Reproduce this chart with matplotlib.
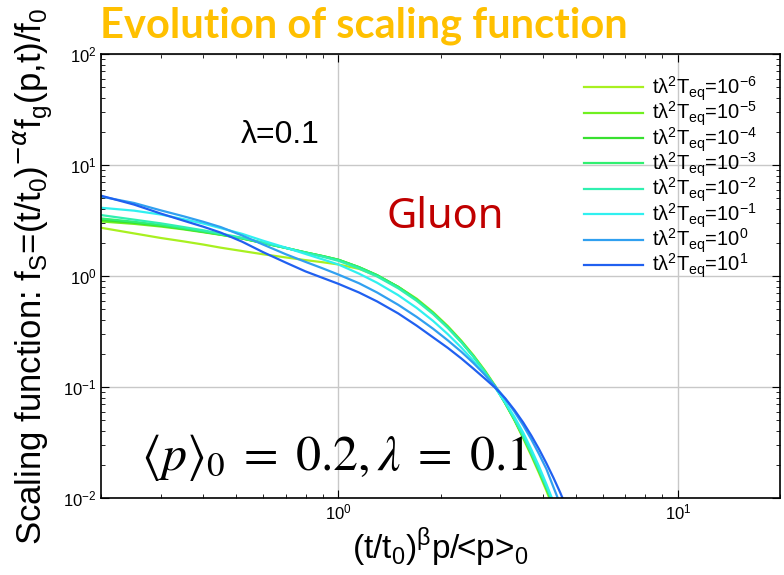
import numpy as np
import matplotlib
matplotlib.use("Agg")
from matplotlib import pyplot as plt

plt.rcParams['font.family'] = ['Liberation Sans', 'DejaVu Sans']

# scaled momentum (t/t0)^beta p/<p>0
x = [0.2, 0.25, 0.3, 0.35, 0.4, 0.45, 0.52, 0.6, 0.7, 0.8, 0.9, 1.0, 1.15, 1.3, 1.5,
     1.7, 1.9, 2.1, 2.3, 2.5, 2.7, 2.9, 3.1, 3.3, 3.5, 3.7, 3.9, 4.1, 4.3, 4.5, 4.7]

exps = ['-6', '-5', '-4', '-3', '-2', '-1', '0', '1']
colors = ['#a8f020', '#70f020', '#38e030', '#30f070', '#30f0b0', '#30f0f0', '#30a0f0', '#2060f0']

f_m6 = [2.72, 2.42, 2.2, 2.05, 1.92, 1.8, 1.68, 1.57, 1.47, 1.39, 1.33, 1.27, 1.16, 1.0, 0.80,
        0.625, 0.473, 0.354, 0.262, 0.193, 0.141, 0.102, 0.071, 0.05, 0.0345, 0.024, 0.0167, 0.0116, 0.008, 0.0055, 0.0037]
f_m5 = [3.1, 2.95, 2.79, 2.63, 2.48, 2.35, 2.18, 1.98, 1.79, 1.63, 1.51, 1.40, 1.20, 1.017, 0.797,
        0.613, 0.464, 0.347, 0.257, 0.189, 0.138, 0.100, 0.0716, 0.0508, 0.0356, 0.0249, 0.0174, 0.0122, 0.0085, 0.0059, 0.004]
f_m4 = [3.2, 3.02, 2.84, 2.66, 2.5, 2.36, 2.18, 1.98, 1.79, 1.63, 1.51, 1.40, 1.20, 1.017, 0.797,
        0.613, 0.464, 0.347, 0.257, 0.189, 0.138, 0.100, 0.0716, 0.0508, 0.0356, 0.0249, 0.0174, 0.0122, 0.0085, 0.0059, 0.004]
f_m3 = [3.3, 3.08, 2.88, 2.69, 2.52, 2.37, 2.19, 1.99, 1.79, 1.63, 1.51, 1.40, 1.20, 1.015, 0.795,
        0.612, 0.463, 0.347, 0.257, 0.189, 0.138, 0.100, 0.0718, 0.051, 0.0358, 0.0251, 0.0176, 0.0123, 0.0086, 0.006, 0.0041]
f_m2 = [3.54, 3.22, 2.98, 2.76, 2.58, 2.41, 2.21, 2.0, 1.79, 1.62, 1.49, 1.37, 1.17, 0.99, 0.775,
        0.598, 0.454, 0.34, 0.253, 0.187, 0.137, 0.1, 0.072, 0.0515, 0.0364, 0.0256, 0.018, 0.0127, 0.0089, 0.0062, 0.0043]
f_m1 = [4.12, 3.88, 3.58, 3.25, 2.97, 2.7, 2.4, 2.08, 1.8, 1.58, 1.41, 1.27, 1.05, 0.869, 0.672,
        0.516, 0.394, 0.299, 0.227, 0.172, 0.130, 0.0977, 0.0727, 0.0537, 0.0389, 0.0274, 0.0192, 0.0133, 0.0092, 0.0063, 0.0043]
f_0 = [5.2, 4.55, 3.9, 3.45, 3.08, 2.76, 2.32, 1.92, 1.57, 1.34, 1.17, 1.03, 0.86, 0.71, 0.55,
       0.428, 0.335, 0.263, 0.208, 0.164, 0.129, 0.101, 0.0783, 0.0599, 0.0452, 0.0337, 0.0248, 0.0182, 0.0125, 0.0088, 0.006]
f_1 = [5.29, 4.4, 3.65, 3.15, 2.78, 2.46, 2.04, 1.64, 1.32, 1.1, 0.96, 0.85, 0.71, 0.59, 0.46,
       0.357, 0.28, 0.225, 0.181, 0.146, 0.119, 0.098, 0.079, 0.062, 0.048, 0.0365, 0.0275, 0.0205, 0.0152, 0.0112, 0.0082]

series = [f_m6, f_m5, f_m4, f_m3, f_m2, f_m1, f_0, f_1]

fig = plt.figure(figsize=(7.84, 5.75), dpi=100)
ax = fig.add_axes([0.129, 0.134, 0.866, 0.772])

for ys, e, c in zip(series, exps, colors):
    ax.plot(x, ys, color=c, lw=1.6,
            label='tλ$^\\mathregular{2}$T$_\\mathregular{eq}$=10$^\\mathregular{%s}$' % e)

ax.set_xscale('log')
ax.set_yscale('log')
ax.set_xlim(0.2, 20)
ax.set_ylim(0.01, 100)
ax.grid(True, which='major', color='#c8c8c8', lw=1.0)
ax.tick_params(which='both', direction='in', top=True, right=True, labelsize=12)
ax.tick_params(which='major', length=6)
ax.tick_params(which='minor', length=3)
for s in ax.spines.values():
    s.set_linewidth(1.2)

ax.set_ylabel(r'Scaling function: f$_\mathregular{S}$=(t/t$_\mathregular{0}$)$^{-\alpha}$f$_\mathregular{g}$(p,t)/f$_\mathregular{0}$',
              fontsize=25)
ax.yaxis.set_label_coords(-0.068, 0.5)
ax.set_xlabel(r'(t/t$_\mathregular{0}$)$^\mathregular{\beta}$p/<p>$_\mathregular{0}$', fontsize=24, labelpad=2)

leg = ax.legend(loc='upper left', frameon=False, fontsize=14.5, labelspacing=-0.15,
                handlelength=2.9, handletextpad=0.45, bbox_to_anchor=(0.685, 0.995))

ax.text(0.3225, 0.80, 'λ=0.1', transform=ax.transAxes, fontsize=23, ha='right')
ax.text(0.42, 0.608, 'Gluon', transform=ax.transAxes, fontsize=30, color='#c00000',
        family='Noto Sans')
ax.text(0.058, 0.063, r'$\langle p\rangle_0 \;=\; 0.2, \lambda \;=\; 0.1$', transform=ax.transAxes,
        fontsize=36, math_fontfamily='stix')

fig.text(0.128, 0.934, 'Evolution of scaling function', fontsize=30, fontweight='bold',
         color='#ffc000', family='Lato')

fig.savefig('out.png', dpi=100)
